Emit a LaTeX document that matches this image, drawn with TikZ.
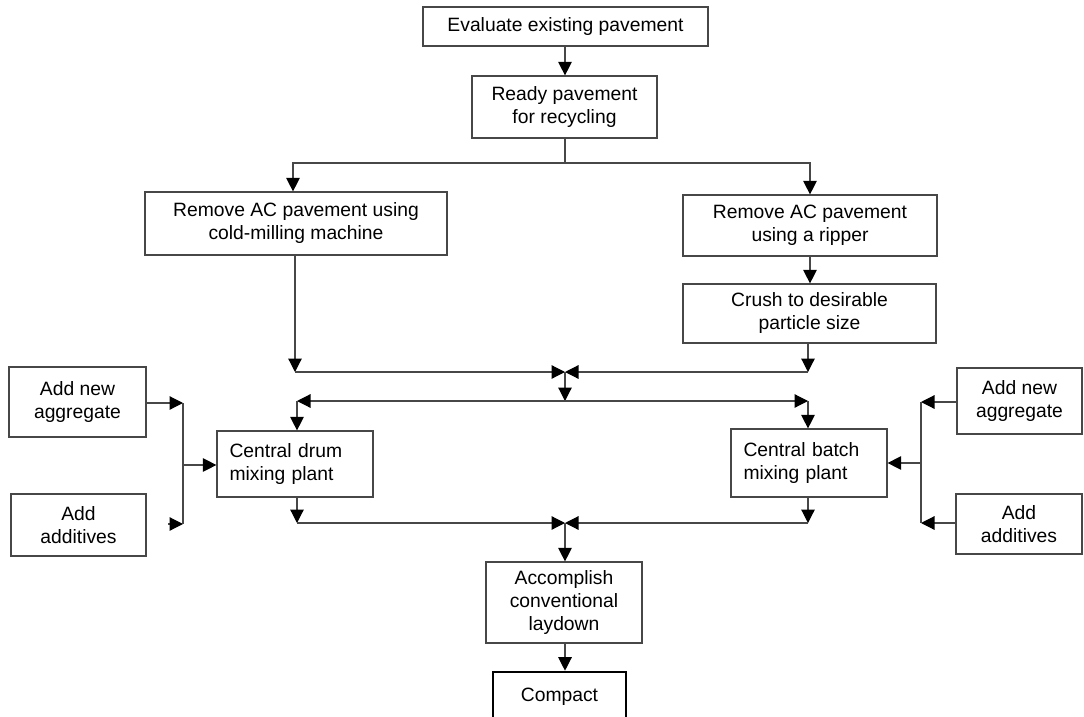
\documentclass[tikz,border=0pt]{standalone}
\usepackage{fontspec}
\setmainfont{Liberation Sans}
\usetikzlibrary{arrows.meta}

\tikzset{
  box/.style={draw=black!72, line width=1.2pt, fill=white, inner sep=0pt,
    align=center, font=\fontsize{19.3}{23}\selectfont},
  leftbox/.style={box, align=left, inner xsep=12.5pt, text width=#1},
  thickbox/.style={box, draw=black, line width=2.6pt},
  wire/.style={draw=black!72, line width=1.2pt},
  arr/.style={wire, -{Triangle[length=13.5pt, width=13.5pt, color=black]}},
}

\begin{document}
\begin{tikzpicture}[x=1pt, y=-1pt]
\useasboundingbox (0,0) rectangle (1084,717);

% process boxes
\node[box, minimum width=285, minimum height=39] (eval) at (565.5,26.5) {Evaluate existing pavement};
\node[box, minimum width=185, minimum height=62] (ready) at (564.5,107) {Ready pavement\\for recycling};
\node[box, minimum width=302, minimum height=63] (rmill) at (296,223.5) {Remove AC pavement using\\cold-milling machine};
\node[box, minimum width=254, minimum height=61] (rrip) at (810,225.5) {Remove AC pavement\\using a ripper};
\node[box, minimum width=253, minimum height=59] (crush) at (809.5,313.5) {Crush to desirable\\particle size};
\node[leftbox=131pt, minimum height=66] (drum) at (295,464) {Central drum\\mixing plant};
\node[leftbox=131pt, minimum height=68] (batch) at (809,463) {Central batch\\mixing plant};
\node[box, minimum width=137, minimum height=70] (aggL) at (77.5,402) {Add new\\aggregate};
\node[box, minimum width=135, minimum height=62] (addL) at (78.5,525) {Add\\additives};
\node[box, minimum width=125, minimum height=66] (aggR) at (1019.5,401) {Add new\\aggregate};
\node[box, minimum width=126, minimum height=60] (addR) at (1019,524) {Add\\additives};
\node[box, minimum width=156, minimum height=81] (lay) at (564,602.5) {Accomplish\\conventional\\laydown};
\node[thickbox, minimum width=133, minimum height=50] (compact) at (559.5,697) {Compact};

% junction points
\coordinate (split) at (565,163);
\coordinate (m1) at (565,372);
\coordinate (m1l) at (295,372);
\coordinate (m1r) at (808,372);
\coordinate (d1) at (565,401);
\coordinate (d1l) at (297,401);
\coordinate (d1r) at (808,401);
\coordinate (m2) at (565,523);
\coordinate (m2l) at (297,523);
\coordinate (m2r) at (808,523);
\coordinate (bl1) at (183,403);
\coordinate (bl2) at (183,524);
\coordinate (blm) at (183,465);
\coordinate (blh) at (168,524);
\coordinate (br1) at (921,402);
\coordinate (br2) at (921,523);
\coordinate (brm) at (921,463);

% main flow
\draw[arr] (eval.south -| split) -- (ready.north -| split);
\draw[wire] (ready.south -| split) -- (split);
\draw[arr] (split) -| ([xshift=-3pt]rmill.north);
\draw[arr] (split) -| (rrip.north);
\draw[arr] (rrip.south) -- (crush.north -| rrip.south);

% collecting the milled and crushed material
\draw[arr] (rmill.south -| m1l) -- (m1l);
\draw[arr] (m1l) -- (m1);
\draw[arr] (crush.south -| m1r) -- (m1r);
\draw[arr] (m1r) -- (m1);
\draw[arr] (m1) -- (d1);

% distribution to the plants
\draw[arr] (d1) -- (d1l);
\draw[arr] (d1l) -- (drum.north -| d1l);
\draw[arr] (d1) -- (d1r);
\draw[arr] (d1r) -- (batch.north -| d1r);

% plant outputs
\draw[arr] (drum.south -| m2l) -- (m2l);
\draw[arr] (m2l) -- (m2);
\draw[arr] (batch.south -| m2r) -- (m2r);
\draw[arr] (m2r) -- (m2);
\draw[arr] (m2) -- (lay.north -| m2);
\draw[arr] (lay.south -| m2) -- (compact.north -| m2);

% additions, left
\draw[arr] (aggL.east |- bl1) -- (bl1);
\draw[arr] (blh) -- (bl2);
\draw[wire] (bl1) -- (bl2);
\draw[arr] (blm) -- (drum.west |- blm);

% additions, right
\draw[arr] (aggR.west |- br1) -- (br1);
\draw[arr] (addR.west |- br2) -- (br2);
\draw[wire] (br1) -- (br2);
\draw[arr] (brm) -- (batch.east |- brm);
\end{tikzpicture}
\end{document}
